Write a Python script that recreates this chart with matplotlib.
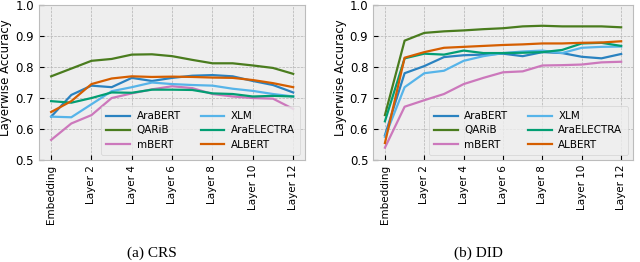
import numpy as np
import matplotlib
matplotlib.use('Agg')
import matplotlib.pyplot as plt

plt.style.use('bmh')

layers = ['Embedding'] + ['Layer %d' % i for i in range(1, 13)]
models = ['AraBERT', 'QARiB', 'mBERT', 'XLM', 'AraELECTRA', 'ALBERT']
colors = ['#2a82c0', '#4a7c1e', '#cc78bc', '#56b4e9', '#029e73', '#d55e00']

crs_arabert = [0.640, 0.710, 0.740, 0.735, 0.765, 0.755, 0.765, 0.772, 0.774, 0.770, 0.755, 0.742, 0.718]
crs_qarib = [0.770, 0.795, 0.820, 0.826, 0.840, 0.841, 0.835, 0.823, 0.812, 0.812, 0.805, 0.797, 0.778]
crs_mbert = [0.565, 0.618, 0.645, 0.700, 0.715, 0.728, 0.738, 0.732, 0.713, 0.705, 0.700, 0.698, 0.665]
crs_xlm = [0.640, 0.638, 0.680, 0.722, 0.735, 0.750, 0.745, 0.742, 0.740, 0.730, 0.723, 0.713, 0.705]
crs_araelectra = [0.690, 0.685, 0.700, 0.718, 0.717, 0.727, 0.727, 0.726, 0.715, 0.713, 0.705, 0.707, 0.705]
crs_albert = [0.655, 0.690, 0.745, 0.763, 0.770, 0.768, 0.769, 0.768, 0.766, 0.765, 0.758, 0.748, 0.735]

did_arabert = [0.580, 0.780, 0.803, 0.832, 0.838, 0.840, 0.843, 0.835, 0.848, 0.845, 0.833, 0.828, 0.842]
did_qarib = [0.645, 0.885, 0.910, 0.915, 0.918, 0.922, 0.925, 0.931, 0.933, 0.931, 0.931, 0.931, 0.928]
did_mbert = [0.540, 0.672, 0.693, 0.713, 0.745, 0.765, 0.783, 0.786, 0.805, 0.806, 0.808, 0.815, 0.817]
did_xlm = [0.575, 0.735, 0.780, 0.788, 0.820, 0.835, 0.845, 0.850, 0.853, 0.845, 0.862, 0.865, 0.866]
did_araelectra = [0.625, 0.828, 0.843, 0.840, 0.853, 0.845, 0.845, 0.846, 0.848, 0.855, 0.876, 0.878, 0.868]
did_albert = [0.555, 0.830, 0.848, 0.862, 0.865, 0.868, 0.871, 0.873, 0.876, 0.876, 0.878, 0.879, 0.883]

crs = [crs_arabert, crs_qarib, crs_mbert, crs_xlm, crs_araelectra, crs_albert]
did = [did_arabert, did_qarib, did_mbert, did_xlm, did_araelectra, did_albert]

fig = plt.figure(figsize=(6.4, 2.62), dpi=100)
fig.patch.set_facecolor('white')
ax1 = fig.add_axes([0.061, 0.389, 0.416, 0.592])
ax2 = fig.add_axes([0.583, 0.389, 0.406, 0.592])

x = np.arange(len(layers))
panels = [(ax1, crs, '(a) CRS', 0.2375, -0.102), (ax2, did, '(b) DID', 0.748, -0.10)]
for ax, data, caption, cx, lx in panels:
    for vals, name, c in zip(data, models, colors):
        ax.plot(x, vals, color=c, lw=1.6, label=name)
    ax.set_ylim(0.5, 1.0)
    ax.set_xticks(x[::2])
    ax.set_xticklabels(layers[::2], rotation=90, fontsize=7.5)
    ax.tick_params(axis='y', labelsize=8.5)
    ax.set_ylabel('Layerwise Accuracy', fontsize=8.5)
    ax.yaxis.set_label_coords(lx, 0.53)
    ax.legend(loc='lower right', borderaxespad=0.5,
              ncol=2, fontsize=7.5, frameon=True, handlelength=2.3,
              handletextpad=0.6, borderpad=0.5, labelspacing=0.4, columnspacing=1.9)
    fig.text(cx, 0.034, caption, ha='center', va='center', fontsize=11,
             family='Liberation Serif')

fig.savefig('out.png', dpi=100, facecolor='white')
